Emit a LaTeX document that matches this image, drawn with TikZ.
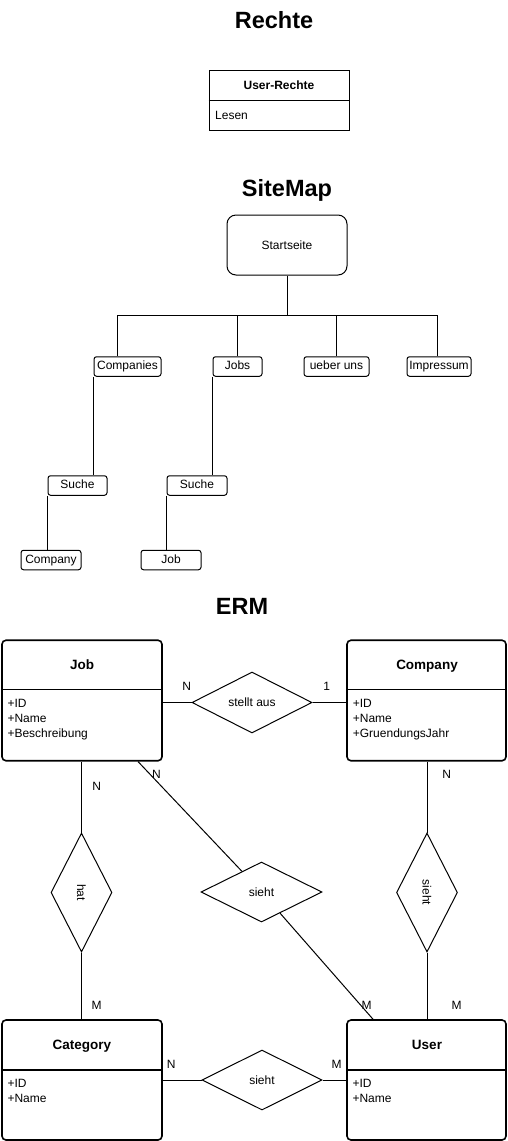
\documentclass[tikz,border=0pt]{standalone}
\usepackage{fontspec}
\setmainfont{Liberation Sans}
\usetikzlibrary{shapes.geometric}
\begin{document}
\begin{tikzpicture}[x=1pt,y=-1pt,
  ttl/.style={font=\fontsize{23.5}{28}\selectfont\bfseries, inner sep=0pt},
  txt/.style={font=\fontsize{12}{14}\selectfont, inner sep=0pt},
  pagebox/.style={draw, rounded corners=2.5pt, line width=1pt, inner sep=0pt, minimum height=19.5pt, text height=9pt, text depth=2.5pt, font=\fontsize{12}{14}\selectfont},
  ent/.style={draw, rounded corners=4pt, line width=1.6pt, minimum width=160pt, minimum height=120.5pt, inner sep=0pt},
  entline/.style={line width=1.6pt},
  enttitle/.style={font=\fontsize{13.5}{16}\selectfont\bfseries, inner sep=0pt, anchor=base},
  attr/.style={font=\fontsize{12}{15}\selectfont, align=left, anchor=north west, inner sep=0pt},
  rel/.style={draw, diamond, line width=1pt, inner sep=0pt, font=\fontsize{12}{14}\selectfont},
  card/.style={font=\fontsize{12}{14}\selectfont, inner sep=0pt},
  conn/.style={line width=1pt}
]
\useasboundingbox (0,0) rectangle (507,1141);

% ---------- Rechte ----------
\node[ttl] (tRechte) at (274,20) {Rechte};
\node[draw, line width=1pt, minimum width=140pt, minimum height=60pt, inner sep=0pt] (rechteBox) at (279,100) {};
\draw[conn] (rechteBox.west) -- (rechteBox.east);
\node[txt, font=\fontsize{12}{14}\selectfont\bfseries] (rechteTitle) at (279,85) {User-Rechte};
\node[txt, anchor=west] (lesen) at (215,115) {Lesen};

% ---------- SiteMap ----------
\node[ttl] (tSite) at (287,190) {SiteMap};
\node[draw, rounded corners=9pt, line width=1pt, minimum width=120pt, minimum height=60pt, inner sep=0pt, font=\fontsize{12}{14}\selectfont] (start) at (287,245) {Startseite};

\node[pagebox, minimum width=67pt] (companies) at (127.5,366.5) {Companies};
\node[pagebox, minimum width=49pt] (jobs) at (237.5,366.5) {Jobs};
\node[pagebox, minimum width=65pt] (ueber) at (336.5,366.5) {ueber uns};
\node[pagebox, minimum width=64pt] (impressum) at (439,366.5) {Impressum};
\node[pagebox, minimum width=59pt] (suche1) at (77.5,485.5) {Suche};
\node[pagebox, minimum width=60pt] (suche2) at (197,485.5) {Suche};
\node[pagebox, minimum width=60pt] (companyP) at (51,560) {Company};
\node[pagebox, minimum width=60pt] (jobP) at (171,560) {Job};

\coordinate (bus) at (287,315);
\draw[conn] (start.south) -- (bus);
\draw[conn] (bus) -| ([xshift=-10.5pt]companies.north);
\draw[conn] (bus) -| ([xshift=-0.5pt]jobs.north);
\draw[conn] (bus) -| (ueber.north);
\draw[conn] (bus) -| ([xshift=-2pt]impressum.north);
\draw[conn] (companies.south west) -- (companies.south west |- suche1.north);
\draw[conn] (suche1.south west) -- (suche1.south west |- companyP.north);
\draw[conn] (jobs.south west) -- (jobs.south west |- suche2.north);
\draw[conn] (suche2.south west) -- (suche2.south west |- jobP.north);

% ---------- ERM ----------
\node[ttl] (tERM) at (242,606) {ERM};

% entities
\node[ent] (jobE) at (82,700.5) {};
\draw[entline] ([yshift=-50pt]jobE.north west) -- ([yshift=-50pt]jobE.north east);
\node[enttitle] (jobT) at (82,669.8) {Job};
\node[attr] (jobA) at (7.3,698.7) {+ID\\+Name\\+Beschreibung};

\node[ent, minimum width=159pt] (compE) at (426.5,700.5) {};
\draw[entline] ([yshift=-50pt]compE.north west) -- ([yshift=-50pt]compE.north east);
\node[enttitle] (compT) at (427,669.8) {Company};
\node[attr] (compA) at (352.7,698.7) {+ID\\+Name\\+GruendungsJahr};

\node[ent, minimum height=120pt] (catE) at (82,1080) {};
\draw[entline] ([yshift=-51pt]catE.north west) -- ([yshift=-51pt]catE.north east);
\node[enttitle] (catT) at (82,1049.8) {Category};
\node[attr] (catA) at (7.3,1078.7) {+ID\\+Name};

\node[ent, minimum width=159pt, minimum height=120pt] (userE) at (426.5,1080) {};
\draw[entline] ([yshift=-51pt]userE.north west) -- ([yshift=-51pt]userE.north east);
\node[enttitle] (userT) at (427,1049.8) {User};
\node[attr] (userA) at (352.3,1078.7) {+ID\\+Name};

% relationships
\node[rel, minimum width=120pt, minimum height=61pt] (stellt) at (252,702.5) {stellt aus};
\node[rel, rotate=-90, minimum width=119pt, minimum height=61pt] (hat) at (81.5,892.5) {hat};
\node[rel, rotate=-90, minimum width=119pt, minimum height=61pt] (siehtR) at (427,892.5) {sieht};
\node[rel, minimum width=121pt, minimum height=60pt] (siehtM) at (261.5,892) {sieht};
\node[rel, minimum width=120pt, minimum height=60pt] (siehtB) at (262,1080) {sieht};

% connectors
\draw[conn] (stellt.west) -- (stellt.west -| jobE.east);
\draw[conn] (stellt.east) -- (stellt.east -| compE.west);
\draw[conn] (hat.west) -- (hat.west |- jobE.south);
\draw[conn] (hat.east) -- (hat.east |- catE.north);
\draw[conn] (siehtR.west) -- (siehtR.west |- compE.south);
\draw[conn] (siehtR.east) -- (siehtR.east |- userE.north);
\draw[conn] ([xshift=56pt]jobE.south) -- (siehtM);
\draw[conn] (siehtM) -- ([xshift=-53.5pt]userE.north);
\draw[conn] (siehtB.west) -- (siehtB.west -| catE.east);
\draw[conn] (siehtB.east) -- (siehtB.east -| userE.west);

% cardinalities
\node[card] (c1) at (186.7,686.7) {N};
\node[card] (c2) at (326.7,686.7) {1};
\node[card] (c3) at (156.5,774.7) {N};
\node[card] (c4) at (96.7,786.7) {N};
\node[card] (c5) at (446.7,774.7) {N};
\node[card] (c6) at (96.7,1005) {M};
\node[card] (c7) at (366.7,1005) {M};
\node[card] (c8) at (456.7,1005) {M};
\node[card] (c9) at (171.3,1064.3) {N};
\node[card] (c10) at (336.7,1064.3) {M};
\end{tikzpicture}
\end{document}
